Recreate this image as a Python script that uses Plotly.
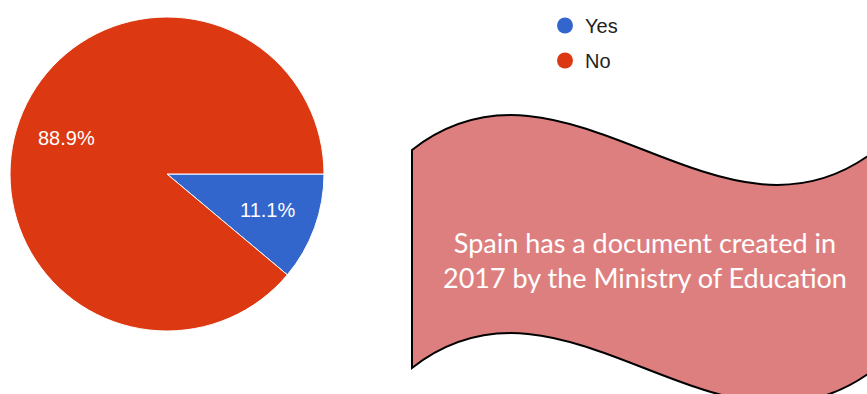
import math
import plotly.graph_objects as go

# Survey answers
labels = ["Yes", "No"]
values = [11.1, 88.9]
colors = ["#3366cc", "#dc3912"]

note_lines = ["Spain has a document created in", "2017 by the Ministry of Education"]

W, H = 867, 394

# Pie placement (pixels)
CX, CY, R = 167, 174, 157
START_DEG = 90          # first slice starts at 3 o'clock, runs clockwise
LABEL_FRAC = 0.678      # label distance from centre as a fraction of the radius


def px(x, y):
    """Pixel position -> paper coordinates string."""
    return f"{x / W:.5f},{1 - y / H:.5f}"


fig = go.Figure()

fig.add_trace(go.Pie(
    labels=labels,
    values=values,
    marker=dict(colors=colors, line=dict(color="white", width=1)),
    sort=False,
    direction="clockwise",
    rotation=START_DEG,
    textinfo="none",
    domain=dict(x=[(CX - R) / W, (CX + R) / W], y=[1 - (CY + R) / H, 1 - (CY - R) / H]),
    showlegend=False,
    hoverinfo="label+percent",
))

# Percentage labels placed at the middle angle of each slice
total = sum(values)
acc = 0.0
for v in values:
    mid = START_DEG + (acc + v / 2) / total * 360
    acc += v
    a = math.radians(mid)
    lx = CX + R * LABEL_FRAC * math.sin(a)
    ly = CY - R * LABEL_FRAC * math.cos(a)
    fig.add_annotation(
        x=lx / W, y=1 - ly / H, xref="paper", yref="paper",
        text=f"{v / total * 100:.1f}%", showarrow=False,
        font=dict(family="Liberation Sans, Arial", size=20, color="white"),
        xanchor="center", yanchor="middle",
    )

# Legend entries with round markers
for lab, col in zip(labels, colors):
    fig.add_trace(go.Scatter(
        x=[None], y=[None], mode="markers", name=lab, legendgroup=lab,
        marker=dict(color=col, size=16, symbol="circle", line=dict(width=0)),
        showlegend=True,
    ))

# Wavy banner behind the note
top = (412, 150)
right = 876
depth = 218
amp = 121
w = right - top[0]
path = (
    f"M {px(*top)} "
    f"C {px(top[0] + w / 3, top[1] - amp)} {px(top[0] + 2 * w / 3, top[1] + amp)} {px(right, top[1])} "
    f"L {px(right, top[1] + depth)} "
    f"C {px(top[0] + 2 * w / 3, top[1] + depth + amp)} {px(top[0] + w / 3, top[1] + depth - amp)} {px(top[0], top[1] + depth)} Z"
)
fig.add_shape(type="path", xref="paper", yref="paper", path=path,
              fillcolor="#de7f7f", line=dict(color="black", width=2), layer="below")

fig.add_annotation(
    x=645 / W, y=1 - 260 / H, xref="paper", yref="paper",
    text="<br>".join(note_lines), showarrow=False,
    font=dict(family="Lato", size=27, color="white"),
    align="center", xanchor="center", yanchor="middle",
)

fig.update_layout(
    width=W, height=H,
    margin=dict(l=0, r=0, t=0, b=0),
    paper_bgcolor="white", plot_bgcolor="white",
    xaxis=dict(visible=False), yaxis=dict(visible=False),
    legend=dict(x=545 / W, y=1 - 6 / H, xanchor="left", yanchor="top",
                font=dict(family="Liberation Sans, Arial", size=20, color="#222222"),
                itemsizing="trace", tracegroupgap=6, traceorder="grouped",
                bgcolor="rgba(0,0,0,0)"),
)

fig.write_html("out.html")
